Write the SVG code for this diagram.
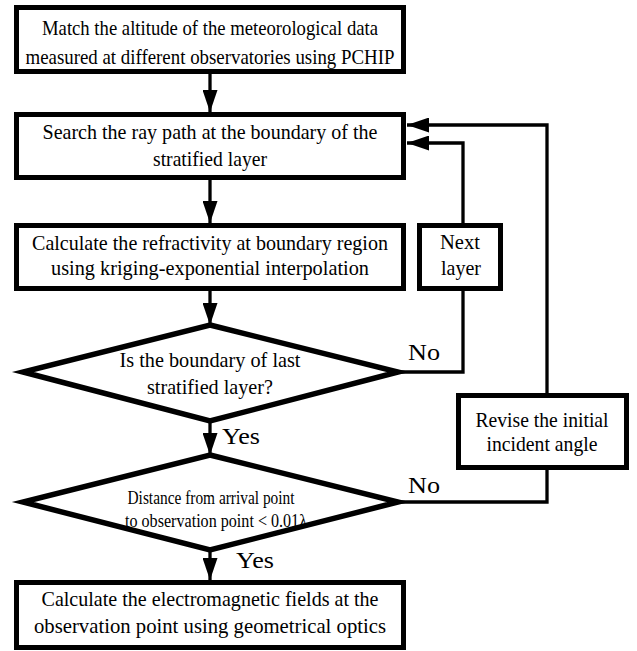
<svg xmlns="http://www.w3.org/2000/svg" width="637" height="651" viewBox="0 0 637 651" font-family="'Liberation Serif', 'Times New Roman', serif">
<style>
.box{fill:#fff;stroke:#000;stroke-width:5}
.dia{fill:#fff;stroke:#000;stroke-width:5.5;stroke-linejoin:miter;stroke-miterlimit:20}
.ln{fill:none;stroke:#000;stroke-width:3.3}
text{font-family:'Liberation Serif','Times New Roman',serif;font-size:21px;fill:#000;text-anchor:middle}
.lbl{font-size:23px;text-anchor:start}
.sm{font-size:19px}
</style>
<defs>
<marker id="ah" viewBox="0 0 22 15" refX="22" refY="7.5" markerWidth="22" markerHeight="15" markerUnits="userSpaceOnUse" orient="auto">
<path d="M0,0 L22,7.5 L0,15 Z" fill="#000"/>
</marker>
</defs>
<g id="connectors">
<line class="ln" x1="210" y1="74" x2="210" y2="112" marker-end="url(#ah)"/>
<line class="ln" x1="210" y1="180" x2="210" y2="223" marker-end="url(#ah)"/>
<line class="ln" x1="210" y1="291" x2="210" y2="325" marker-end="url(#ah)"/>
<line class="ln" x1="210" y1="421" x2="210" y2="455" marker-end="url(#ah)"/>
<line class="ln" x1="210" y1="550" x2="210" y2="580" marker-end="url(#ah)"/>
<polyline class="ln" points="398,372 463,372 463,291"/>
<polyline class="ln" points="463,223 463,143 407,143" marker-end="url(#ah)"/>
<polyline class="ln" points="398,502 547,502 547,470"/>
<polyline class="ln" points="547,393 547,125 407,125" marker-end="url(#ah)"/>
<text class="lbl" x="408" y="360" textLength="32" lengthAdjust="spacingAndGlyphs">No</text>
<text class="lbl" x="222" y="444" textLength="38" lengthAdjust="spacingAndGlyphs">Yes</text>
<text class="lbl" x="408" y="493" textLength="32" lengthAdjust="spacingAndGlyphs">No</text>
<text class="lbl" x="236" y="568" textLength="38" lengthAdjust="spacingAndGlyphs">Yes</text>
</g>
<g id="n1">
<rect class="box" x="16.5" y="7.5" width="387" height="64"/>
<text x="210" y="35" textLength="336" lengthAdjust="spacingAndGlyphs">Match the altitude of the meteorological data</text>
<text x="210" y="64" textLength="369" lengthAdjust="spacingAndGlyphs">measured at different observatories using PCHIP</text>
</g>
<g id="n2">
<rect class="box" x="16.5" y="114.5" width="387" height="63"/>
<text x="210" y="139" textLength="335" lengthAdjust="spacingAndGlyphs">Search the ray path at the boundary of the</text>
<text x="210" y="166" textLength="114" lengthAdjust="spacingAndGlyphs">stratified layer</text>
</g>
<g id="n3">
<rect class="box" x="16.5" y="225.5" width="387" height="63"/>
<text x="210" y="250" textLength="356" lengthAdjust="spacingAndGlyphs">Calculate the refractivity at boundary region</text>
<text x="210" y="275" textLength="318" lengthAdjust="spacingAndGlyphs">using kriging-exponential interpolation</text>
</g>
<g id="n_next">
<rect class="box" x="419.5" y="225.5" width="81" height="63"/>
<text x="460" y="249" textLength="40" lengthAdjust="spacingAndGlyphs">Next</text>
<text x="461" y="275" textLength="40" lengthAdjust="spacingAndGlyphs">layer</text>
</g>
<g id="d1">
<polygon class="dia" points="210,325 398,372 210,421 23,372"/>
<text x="210" y="367" textLength="181" lengthAdjust="spacingAndGlyphs">Is the boundary of last</text>
<text x="210" y="394" textLength="126" lengthAdjust="spacingAndGlyphs">stratified layer?</text>
</g>
<g id="n_revise">
<rect class="box" x="458.5" y="395.5" width="168" height="72"/>
<text x="542" y="427" textLength="133" lengthAdjust="spacingAndGlyphs">Revise the initial</text>
<text x="542" y="451" textLength="111" lengthAdjust="spacingAndGlyphs">incident angle</text>
</g>
<g id="d2">
<polygon class="dia" points="210,455 398,502 210,550 23,502"/>
<text class="sm" x="211" y="504" textLength="167" lengthAdjust="spacingAndGlyphs">Distance from arrival point</text>
<text class="sm" x="216" y="527" textLength="182" lengthAdjust="spacingAndGlyphs">to observation point &lt; 0.01λ</text>
</g>
<g id="n4">
<rect class="box" x="16.5" y="582.5" width="387" height="65"/>
<text x="210" y="606" textLength="337" lengthAdjust="spacingAndGlyphs">Calculate the electromagnetic fields at the</text>
<text x="210" y="633" textLength="352" lengthAdjust="spacingAndGlyphs">observation point using geometrical optics</text>
</g>
</svg>
